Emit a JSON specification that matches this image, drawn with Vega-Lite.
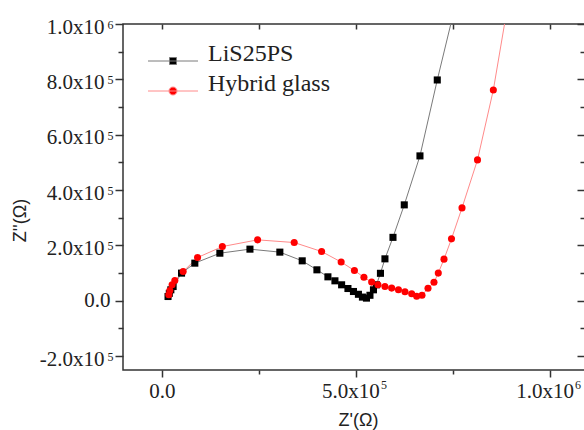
{
  "$schema": "https://vega.github.io/schema/vega-lite/v6.json",
  "width": 462,
  "height": 346,
  "autosize": "none",
  "padding": {"left": 123, "top": 24, "right": 0, "bottom": 60},
  "background": "white",
  "config": {
    "view": {"stroke": "#333333", "strokeWidth": 1.5},
    "axis": {"domain": false, "grid": false, "tickColor": "#333333", "tickWidth": 1.5, "labelFont": "Liberation Serif", "labelFontSize": 21, "labelColor": "#222222", "titleFont": "Liberation Sans", "titleFontSize": 18, "titleFontWeight": "normal", "titleColor": "#222222", "labelFlush": false, "labelOverlap": false, "labelBound": false}
  },
  "data": {"values": [
    {"s": "LiS25PS", "i": 1, "x": 16000, "y": 15500},
    {"s": "LiS25PS", "i": 2, "x": 19300, "y": 27000},
    {"s": "LiS25PS", "i": 3, "x": 23200, "y": 39700},
    {"s": "LiS25PS", "i": 4, "x": 29100, "y": 51600},
    {"s": "LiS25PS", "i": 5, "x": 50800, "y": 100000},
    {"s": "LiS25PS", "i": 6, "x": 85000, "y": 136000},
    {"s": "LiS25PS", "i": 7, "x": 149500, "y": 172000},
    {"s": "LiS25PS", "i": 8, "x": 227000, "y": 186600},
    {"s": "LiS25PS", "i": 9, "x": 304000, "y": 175800},
    {"s": "LiS25PS", "i": 10, "x": 361600, "y": 144400},
    {"s": "LiS25PS", "i": 11, "x": 399500, "y": 111900},
    {"s": "LiS25PS", "i": 12, "x": 427800, "y": 86600},
    {"s": "LiS25PS", "i": 13, "x": 445900, "y": 72200},
    {"s": "LiS25PS", "i": 14, "x": 463100, "y": 57800},
    {"s": "LiS25PS", "i": 15, "x": 479400, "y": 44400},
    {"s": "LiS25PS", "i": 16, "x": 493600, "y": 33600},
    {"s": "LiS25PS", "i": 17, "x": 506400, "y": 23500},
    {"s": "LiS25PS", "i": 18, "x": 516700, "y": 13400},
    {"s": "LiS25PS", "i": 19, "x": 527100, "y": 9700},
    {"s": "LiS25PS", "i": 20, "x": 536100, "y": 19900},
    {"s": "LiS25PS", "i": 21, "x": 545100, "y": 39700},
    {"s": "LiS25PS", "i": 22, "x": 552800, "y": 57800},
    {"s": "LiS25PS", "i": 23, "x": 563100, "y": 99300},
    {"s": "LiS25PS", "i": 24, "x": 574700, "y": 151600},
    {"s": "LiS25PS", "i": 25, "x": 595400, "y": 229200},
    {"s": "LiS25PS", "i": 26, "x": 624500, "y": 346600},
    {"s": "LiS25PS", "i": 27, "x": 664900, "y": 523500},
    {"s": "LiS25PS", "i": 28, "x": 709500, "y": 797800},
    {"s": "LiS25PS", "i": 29, "x": 765500, "y": 1122700},
    {"s": "Hybrid glass", "i": 1, "x": 18000, "y": 21700},
    {"s": "Hybrid glass", "i": 2, "x": 20600, "y": 37200},
    {"s": "Hybrid glass", "i": 3, "x": 26500, "y": 57800},
    {"s": "Hybrid glass", "i": 4, "x": 33500, "y": 73300},
    {"s": "Hybrid glass", "i": 5, "x": 54900, "y": 105800},
    {"s": "Hybrid glass", "i": 6, "x": 92000, "y": 156300},
    {"s": "Hybrid glass", "i": 7, "x": 155900, "y": 196000},
    {"s": "Hybrid glass", "i": 8, "x": 246600, "y": 220200},
    {"s": "Hybrid glass", "i": 9, "x": 341000, "y": 210500},
    {"s": "Hybrid glass", "i": 10, "x": 411600, "y": 178000},
    {"s": "Hybrid glass", "i": 11, "x": 461900, "y": 140100},
    {"s": "Hybrid glass", "i": 12, "x": 496100, "y": 109400},
    {"s": "Hybrid glass", "i": 13, "x": 520600, "y": 84800},
    {"s": "Hybrid glass", "i": 14, "x": 540500, "y": 67500},
    {"s": "Hybrid glass", "i": 15, "x": 556700, "y": 57800},
    {"s": "Hybrid glass", "i": 16, "x": 574700, "y": 51600},
    {"s": "Hybrid glass", "i": 17, "x": 592000, "y": 45800},
    {"s": "Hybrid glass", "i": 18, "x": 609500, "y": 39700},
    {"s": "Hybrid glass", "i": 19, "x": 626300, "y": 32500},
    {"s": "Hybrid glass", "i": 20, "x": 643600, "y": 25300},
    {"s": "Hybrid glass", "i": 21, "x": 656400, "y": 16200},
    {"s": "Hybrid glass", "i": 22, "x": 670100, "y": 19900},
    {"s": "Hybrid glass", "i": 23, "x": 685600, "y": 45100},
    {"s": "Hybrid glass", "i": 24, "x": 701000, "y": 66800},
    {"s": "Hybrid glass", "i": 25, "x": 712100, "y": 100000},
    {"s": "Hybrid glass", "i": 26, "x": 726800, "y": 150500},
    {"s": "Hybrid glass", "i": 27, "x": 746100, "y": 223800},
    {"s": "Hybrid glass", "i": 28, "x": 773200, "y": 335700},
    {"s": "Hybrid glass", "i": 29, "x": 813100, "y": 509000},
    {"s": "Hybrid glass", "i": 30, "x": 853900, "y": 761700},
    {"s": "Hybrid glass", "i": 31, "x": 902000, "y": 1158800}
  ]},
  "layer": [
    {
      "transform": [{"filter": "datum.s === 'LiS25PS'"}],
      "mark": {"type": "line", "strokeWidth": 1, "clip": true, "color": "#7a7a7a"},
      "encoding": {
        "x": {"field": "x", "type": "quantitative", "scale": {"domain": [-100000, 1090000], "nice": false, "zero": false},
          "axis": {"orient": "bottom", "title": "Z'(Ω)", "values": [0, 250000, 500000, 750000, 1000000],
            "tickSize": {"condition": {"test": "datum.value % 500000 != 0", "value": 4}, "value": 7},
            "labelPadding": 3,
            "labelOffset": {"condition": {"test": "datum.value == 0", "value": 0}, "value": -5.5},
            "labelExpr": "datum.value % 500000 != 0 ? '' : datum.value == 0 ? '0.0' : (datum.value < 0 ? '-' : '') + (abs(datum.value) >= 1000000 ? format(abs(datum.value)/1000000, '.1f') : format(abs(datum.value)/100000, '.1f')) + 'x10'",
            "titleX": 235, "titleY": 55, "titleBaseline": "alphabetic", "titleAnchor": "middle", "titleAlign": "center"}},
        "y": {"field": "y", "type": "quantitative", "scale": {"domain": [-250000, 1000000], "nice": false, "zero": false},
          "axis": {"orient": "left", "title": "Z''(Ω)", "values": [-200000, -100000, 0, 100000, 200000, 300000, 400000, 500000, 600000, 700000, 800000, 900000, 1000000],
            "tickSize": {"condition": {"test": "datum.value % 200000 != 0", "value": 5}, "value": 8},
            "labelPadding": {"condition": {"test": "datum.value == 0", "value": 5}, "value": 11},
            "labelOffset": {"condition": {"test": "datum.value == 0", "value": 0}, "value": 3},
            "labelExpr": "datum.value % 200000 != 0 ? '' : datum.value == 0 ? '0.0' : (datum.value < 0 ? '-' : '') + (abs(datum.value) >= 1000000 ? format(abs(datum.value)/1000000, '.1f') : format(abs(datum.value)/100000, '.1f')) + 'x10'",
            "titleX": -98, "titleY": 196, "titleBaseline": "alphabetic", "titleAngle": -90, "titleAlign": "center", "titleAnchor": "middle"}},
        "order": {"field": "i", "type": "quantitative"}
      }
    },
    {
      "transform": [{"filter": "datum.s === 'Hybrid glass'"}],
      "mark": {"type": "line", "strokeWidth": 1, "clip": true, "color": "#ff8a8a"},
      "encoding": {
        "x": {"field": "x", "type": "quantitative",
          "axis": {"orient": "bottom", "title": null, "values": [500000, 1000000], "tickSize": 7, "tickOpacity": 0,
            "labelFontSize": 12, "labelAlign": "left", "labelBaseline": "top", "labelPadding": 2, "labelOffset": 24.5,
            "labelExpr": "datum.value >= 1000000 ? '6' : '5'"}},
        "y": {"field": "y", "type": "quantitative",
          "axis": {"orient": "left", "title": null, "values": [-200000, 200000, 400000, 600000, 800000, 1000000], "tickSize": 8, "tickOpacity": 0,
            "labelFontSize": 12, "labelAlign": "right", "labelBaseline": "middle", "labelPadding": 2, "labelOffset": 0.5,
            "labelExpr": "datum.value >= 1000000 ? '6' : '5'"}},
        "order": {"field": "i", "type": "quantitative"}
      }
    },
    {
      "transform": [{"filter": "datum.s === 'LiS25PS'"}],
      "mark": {"type": "point", "shape": "square", "filled": true, "size": 50, "opacity": 1, "color": "#000000", "clip": true},
      "encoding": {
        "x": {"field": "x", "type": "quantitative",
          "axis": {"orient": "top", "title": null, "labels": false, "values": [0, 250000, 500000, 750000, 1000000], "tickSize": -5}},
        "y": {"field": "y", "type": "quantitative",
          "axis": {"orient": "right", "title": null, "labels": false, "values": [-200000, -100000, 0, 100000, 200000, 300000, 400000, 500000, 600000, 700000, 800000, 900000, 1000000],
            "tickSize": {"condition": {"test": "datum.value % 200000 != 0", "value": -5}, "value": -8}}}
      }
    },
    {
      "transform": [{"filter": "datum.s === 'Hybrid glass'"}],
      "mark": {"type": "point", "shape": "circle", "filled": true, "size": 50, "opacity": 1, "color": "#ff0000", "clip": true},
      "encoding": {
        "x": {"field": "x", "type": "quantitative", "axis": null},
        "y": {"field": "y", "type": "quantitative", "axis": null}
      }
    },
    {
      "transform": [{"filter": "false"}],
      "mark": {"type": "point", "filled": true, "strokeWidth": 1, "opacity": 1},
      "encoding": {
        "x": {"field": "x", "type": "quantitative", "axis": null},
        "y": {"field": "y", "type": "quantitative", "axis": null},
        "fill": {"field": "s", "type": "nominal", "scale": {"domain": ["LiS25PS", "Hybrid glass"], "range": ["#000000", "#ff0000"]},
          "legend": {"orient": "none", "legendX": 38, "legendY": 25, "title": null, "padding": 0, "labelFont": "Liberation Serif", "labelFontSize": 24, "labelColor": "#222222", "labelOffset": 23, "symbolSize": 100, "rowPadding": 5, "labelBaseline": "alphabetic", "symbolStrokeWidth": 1, "symbolOpacity": 1}},
        "stroke": {"field": "s", "type": "nominal", "scale": {"domain": ["LiS25PS", "Hybrid glass"], "range": ["#7a7a7a", "#ff8a8a"]},
          "legend": {"orient": "none", "legendX": 38, "legendY": 25, "title": null, "padding": 0, "labelFont": "Liberation Serif", "labelFontSize": 24, "labelColor": "#222222", "labelOffset": 23, "symbolSize": 100, "rowPadding": 5, "labelBaseline": "alphabetic", "symbolStrokeWidth": 1, "symbolOpacity": 1}},
        "shape": {"field": "s", "type": "nominal", "scale": {"domain": ["LiS25PS", "Hybrid glass"], "range": ["M-5,0H5M-0.7,-0.7H0.7V0.7H-0.7Z", "M-5,0H5M-0.8,0A0.8,0.8 0 1,1 0.8,0A0.8,0.8 0 1,1 -0.8,0Z"]},
          "legend": {"orient": "none", "legendX": 38, "legendY": 25, "title": null, "padding": 0, "labelFont": "Liberation Serif", "labelFontSize": 24, "labelColor": "#222222", "labelOffset": 23, "symbolSize": 100, "rowPadding": 5, "labelBaseline": "alphabetic", "symbolStrokeWidth": 1, "symbolOpacity": 1}}
      }
    }
  ],
  "resolve": {"axis": {"x": "independent", "y": "independent"}}
}
